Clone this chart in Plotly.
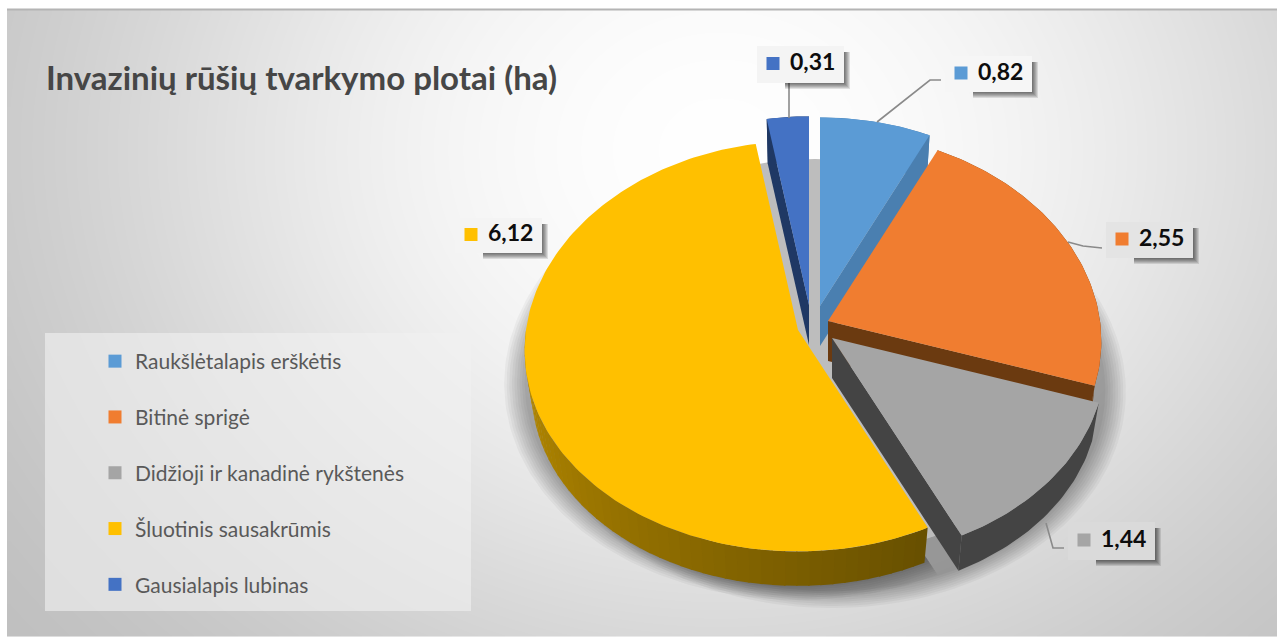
import numpy as np
import plotly.graph_objects as go

# ---------- data ----------
categories = ["Raukšlėtalapis erškėtis", "Bitinė sprigė", "Didžioji ir kanadinė rykštenės",
              "Šluotinis sausakrūmis", "Gausialapis lubinas"]
values = [0.82, 2.55, 1.44, 6.12, 0.31]
title_text = "Invazinių rūšių tvarkymo plotai (ha)"

# ---------- style ----------
top_colors = ["#5B9BD5", "#F07D30", "#A5A5A5", "#FFC000", "#4472C4"]
side_colors = ["#4A7FB0", "#6B3A10", "#444444", "#6B5200", "#1F3864"]
apex = [(820, 306), (828, 321), (832, 338), (798, 330), (809, 305)]
cut_faces = [["end"], ["end"], ["end"], [], ["start"]]
draw_order = [4, 0, 1, 3, 2]
RX, RY, KX, KY, DEPTH, BOTTOM = 272, 205, 0.10, 0.08, 40, 0.975

W, H = 1277, 637
FONT = "Lato"

label_boxes = [(945, 56, 1032, 92, "#F6F6F6"), (1106, 222, 1193, 258, "#E4E4E4"),
               (1068, 522, 1155, 560, "#DADADA"), (455, 218, 542, 253, "#F4F4F4"),
               (757, 46, 844, 83, "#F4F4F4")]
leaders = [[(877, 122), (930, 80), (941, 80)], [(1068, 242), (1083, 246), (1102, 248)],
           [(1046, 523), (1053, 548), (1064, 548)], None, [(789, 118), (789, 78)]]

total = sum(values)
edges = np.concatenate([[0], np.cumsum(values)]) / total * 2 * np.pi


def rim(theta, i, s=1.0, dz=0.0):
    ax, ay = apex[i]
    u, v = np.sin(theta), np.cos(theta)
    return ax + RX * s * u * (1 - KX * v), ay + dz - RY * s * v * (1 - KY * v)


def arc(i, s=1.0, dz=0.0, a=None, b=None):
    a = edges[i] if a is None else a
    b = edges[i + 1] if b is None else b
    n = max(int((b - a) / 0.02), 2)
    return rim(np.linspace(a, b, n), i, s, dz)


def poly(x, y, color, name=None):
    return go.Scatter(x=list(x), y=list(y), mode="lines", fill="toself", fillcolor=color,
                      line=dict(width=0, color=color), hoverinfo="skip" if name is None else "text",
                      text=name, showlegend=False)


def mix(c1, c2, t):
    return "rgb(%d,%d,%d)" % tuple(round(p + (q - p) * t) for p, q in zip(c1, c2))


fig = go.Figure()

# background: soft radial grey
gx = np.linspace(9.5, W + 3, 256)
gy = np.linspace(12, H + 3, 128)
X, Y = np.meshgrid(gx, gy)
r2 = ((X - 720) / 710) ** 2 + ((Y - 150) / 600) ** 2
Z = 254 - 68 * np.tanh(r2 * 0.95)
fig.add_trace(go.Heatmap(x=gx, y=gy, z=Z, zmin=0, zmax=255, zsmooth="best", showscale=False,
                         colorscale=[[0, "#000000"], [1, "#FFFFFF"]], hoverinfo="skip"))
fig.add_trace(go.Scatter(x=[7, W], y=[9.5, 9.5], mode="lines", line=dict(color="#B4B4B4", width=2),
                         hoverinfo="skip", showlegend=False))

# legend panel
fig.add_trace(poly([45, 471, 471, 45], [333, 333, 611, 611], "rgba(240,240,240,0.62)"))

# soft shadow behind the pie
base_t = np.linspace(0, 2 * np.pi, 200)
for s in np.linspace(1.075, 1.0, 9):
    x, y = rim(base_t, 2, s, DEPTH * 0.8)
    fig.add_trace(poly(x, y, "rgba(0,0,0,0.04)"))
    x, y = arc(3, s, DEPTH * 0.8)
    ax, ay = apex[3]
    fig.add_trace(poly([ax, *x], [ay + DEPTH, *y], "rgba(0,0,0,0.04)"))

# grey base visible through the gaps between slices
bx, by = rim(base_t, 3, 0.97, 12)
fig.add_trace(poly(bx + 17, by, "#BDBDBD"))

# slices, back to front
for i in draw_order:
    ax, ay = apex[i]
    # outer wall
    if i == 3:
        a, b = edges[3], edges[4]
        steps = np.linspace(a, min(b, 1.5 * np.pi), 50)
        for t0, t1 in zip(steps[:-1], steps[1:]):
            xt, yt = rim(np.array([t0, t1 + 0.005]), i)
            xb, yb = rim(np.array([t1 + 0.005, t0]), i, BOTTOM, DEPTH)
            f = (t0 - a) / (1.5 * np.pi - a)
            fig.add_trace(poly([*xt, *xb], [*yt, *yb], mix((0x68, 0x50, 0x00), (0xBC, 0x8E, 0x00), f)))
    else:
        xt, yt = arc(i)
        xb, yb = arc(i, BOTTOM, DEPTH)
        fig.add_trace(poly([*xt, *xb[::-1]], [*yt, *yb[::-1]], side_colors[i]))
    # cut faces
    for face in cut_faces[i]:
        th = edges[i + 1] if face == "end" else edges[i]
        x1, y1 = rim(th, i)
        x2, y2 = rim(th, i, BOTTOM, DEPTH)
        fig.add_trace(poly([ax, x1, x2, ax], [ay, y1, y2, ay + DEPTH], side_colors[i]))
    # top face
    x, y = arc(i)
    fig.add_trace(poly([ax, *x], [ay, *y], top_colors[i],
                       name=f"{categories[i]}: {values[i]:.2f}".replace(".", ",")))

# leader lines
for pts in leaders:
    if pts:
        fig.add_trace(go.Scatter(x=[p[0] for p in pts], y=[p[1] for p in pts], mode="lines",
                                 line=dict(color="#8A8A8A", width=1.6), hoverinfo="skip", showlegend=False))

# data labels with drop shadow
for i, (x0, y0, x1, y1, fill) in enumerate(label_boxes):
    for k in range(6, 0, -1):
        fig.add_trace(poly([x0 + 28, x1 + k, x1 + k, x0 + 28],
                           [y0 + 6, y0 + 6, y1 + k, y1 + k], "rgba(0,0,0,0.11)"))
    fig.add_trace(poly([x0, x1, x1, x0], [y0, y0, y1, y1], fill))
    yc = (y0 + y1) / 2
    fig.add_trace(go.Scatter(x=[x0 + 16], y=[yc - 1], mode="markers",
                             marker=dict(symbol="square", size=13, color=top_colors[i]),
                             hoverinfo="skip", showlegend=False))
    fig.add_trace(go.Scatter(x=[x0 + 33], y=[yc], mode="text", text=[f"{values[i]:.2f}".replace(".", ",")],
                             textposition="middle right", hoverinfo="skip", showlegend=False,
                             textfont=dict(family=FONT, size=23, color="#0D0D0D", weight="bold")))

# real legend entries
for i, c in enumerate(categories):
    fig.add_trace(go.Scatter(x=[None], y=[None], mode="markers", name=c, legendgroup=c,
                             marker=dict(symbol="square", size=13, color=top_colors[i])))

fig.update_layout(
    width=W, height=H, margin=dict(l=0, r=0, t=0, b=0), paper_bgcolor="white", plot_bgcolor="white",
    xaxis=dict(range=[0, W], visible=False, fixedrange=True),
    yaxis=dict(range=[H, 0], visible=False, fixedrange=True),
    title=dict(text=title_text, x=46 / W, xanchor="left", y=1 - 78 / H, yanchor="middle",
               font=dict(family=FONT, size=33, color="#464646", weight="bold")),
    legend=dict(x=95 / W, y=1 - 341 / H, xanchor="left", yanchor="top", bgcolor="rgba(0,0,0,0)",
                tracegroupgap=25.5, font=dict(family=FONT, size=21, color="#595959"),
                traceorder="grouped"),
    showlegend=True,
)
fig.write_html("out.html", config=dict(displayModeBar=False),
               post_script="document.body.style.margin='0';document.body.style.overflow='hidden';")
